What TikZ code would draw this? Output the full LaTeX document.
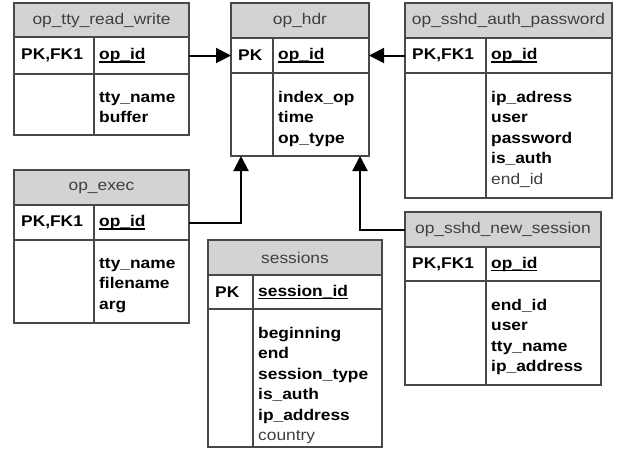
\documentclass[tikz,border=0pt]{standalone}
\usepackage{fontspec}
\usetikzlibrary{arrows.meta}
\newfontfamily\erfam{Liberation Sans}[FakeStretch=1.12]
\newcommand\erfont{\erfam\fontsize{15.5}{20.5}\selectfont}
\definecolor{tblgray}{RGB}{211,211,211}
\definecolor{tblline}{RGB}{72,72,72}
\definecolor{tbltext}{RGB}{64,64,64}
% primary key field, underlined
\newcommand\pkey[1]{\setbox0\hbox{#1}\rlap{\rule[-3pt]{\wd0}{1.2pt}}\box0}
\newcommand\plainf[1]{{\mdseries\color{tbltext}#1}}

\begin{document}
\begin{tikzpicture}[x=1pt,y=-1pt,
  tbl/.style={draw=tblline,line width=1.4pt,inner sep=0pt,outer sep=0pt,anchor=north west},
  tblhead/.style={tbl,fill=tblgray,text=tbltext,font=\erfont},
  tblcell/.style={tbl,fill=white},
  keytxt/.style={anchor=west,inner sep=0pt,font=\erfont\bfseries},
  fieldtxt/.style={anchor=north west,inner sep=0pt,align=left,font=\erfont\bfseries},
  fk/.style={draw=black,line width=2pt,-{Triangle[length=15pt,width=15pt]}}]
\useasboundingbox (0,0) rectangle (618,458);
% op_tty_read_write
\node[tblhead,minimum width=175pt,minimum height=34pt] (rw) at (14,3) {op\_tty\_read\_write};
\node[tblcell,minimum width=80pt,minimum height=37pt] (rw-k) at (rw.south west) {};
\node[tblcell,minimum width=95pt,minimum height=37pt] (rw-f) at (rw-k.north east) {};
\node[tblcell,minimum width=80pt,minimum height=61pt] (rw-b) at (rw-k.south west) {};
\node[tblcell,minimum width=95pt,minimum height=61pt] (rw-c) at (rw-b.north east) {};
\node[keytxt] (rw-kt) at ([xshift=7pt]rw-k.west) {PK,FK1};
\node[keytxt] (rw-ft) at ([xshift=5pt]rw-f.west) {\pkey{op\_id}};
\node[fieldtxt] (rw-ct) at ([shift={(5,18)}]rw-c.north west) {tty\_name\\buffer};
% op_hdr
\node[tblhead,minimum width=138pt,minimum height=35pt] (hdr) at (231,3) {op\_hdr};
\node[tblcell,minimum width=42pt,minimum height=35pt] (hdr-k) at (hdr.south west) {};
\node[tblcell,minimum width=96pt,minimum height=35pt] (hdr-f) at (hdr-k.north east) {};
\node[tblcell,minimum width=42pt,minimum height=83pt] (hdr-b) at (hdr-k.south west) {};
\node[tblcell,minimum width=96pt,minimum height=83pt] (hdr-c) at (hdr-b.north east) {};
\node[keytxt] (hdr-kt) at ([xshift=7pt]hdr-k.west) {PK};
\node[keytxt] (hdr-ft) at ([xshift=5pt]hdr-f.west) {\pkey{op\_id}};
\node[fieldtxt] (hdr-ct) at ([shift={(5,18)}]hdr-c.north west) {index\_op\\time\\op\_type};
% op_sshd_auth_password
\node[tblhead,minimum width=207pt,minimum height=35pt] (auth) at (405,3) {op\_sshd\_auth\_password};
\node[tblcell,minimum width=81pt,minimum height=35pt] (auth-k) at (auth.south west) {};
\node[tblcell,minimum width=126pt,minimum height=35pt] (auth-f) at (auth-k.north east) {};
\node[tblcell,minimum width=81pt,minimum height=125pt] (auth-b) at (auth-k.south west) {};
\node[tblcell,minimum width=126pt,minimum height=125pt] (auth-c) at (auth-b.north east) {};
\node[keytxt] (auth-kt) at ([xshift=7pt]auth-k.west) {PK,FK1};
\node[keytxt] (auth-ft) at ([xshift=5pt]auth-f.west) {\pkey{op\_id}};
\node[fieldtxt] (auth-ct) at ([shift={(5,18)}]auth-c.north west) {ip\_adress\\user\\password\\is\_auth\\\plainf{end\_id}};
% op_exec
\node[tblhead,minimum width=175pt,minimum height=35pt] (ex) at (14,170) {op\_exec};
\node[tblcell,minimum width=80pt,minimum height=35pt] (ex-k) at (ex.south west) {};
\node[tblcell,minimum width=95pt,minimum height=35pt] (ex-f) at (ex-k.north east) {};
\node[tblcell,minimum width=80pt,minimum height=83pt] (ex-b) at (ex-k.south west) {};
\node[tblcell,minimum width=95pt,minimum height=83pt] (ex-c) at (ex-b.north east) {};
\node[keytxt] (ex-kt) at ([xshift=7pt]ex-k.west) {PK,FK1};
\node[keytxt] (ex-ft) at ([xshift=5pt]ex-f.west) {\pkey{op\_id}};
\node[fieldtxt] (ex-ct) at ([shift={(5,18)}]ex-c.north west) {tty\_name\\filename\\arg};
% sessions
\node[tblhead,minimum width=174pt,minimum height=35pt] (ses) at (208,240) {sessions};
\node[tblcell,minimum width=45pt,minimum height=34pt] (ses-k) at (ses.south west) {};
\node[tblcell,minimum width=129pt,minimum height=34pt] (ses-f) at (ses-k.north east) {};
\node[tblcell,minimum width=45pt,minimum height=138pt] (ses-b) at (ses-k.south west) {};
\node[tblcell,minimum width=129pt,minimum height=138pt] (ses-c) at (ses-b.north east) {};
\node[keytxt] (ses-kt) at ([xshift=7pt]ses-k.west) {PK};
\node[keytxt] (ses-ft) at ([xshift=5pt]ses-f.west) {\pkey{session\_id}};
\node[fieldtxt] (ses-ct) at ([shift={(5,18)}]ses-c.north west) {beginning\\end\\session\_type\\is\_auth\\ip\_address\\\plainf{country}};
% op_sshd_new_session
\node[tblhead,minimum width=196pt,minimum height=35pt] (ns) at (405,212) {op\_sshd\_new\_session};
\node[tblcell,minimum width=81pt,minimum height=34pt] (ns-k) at (ns.south west) {};
\node[tblcell,minimum width=115pt,minimum height=34pt] (ns-f) at (ns-k.north east) {};
\node[tblcell,minimum width=81pt,minimum height=104pt] (ns-b) at (ns-k.south west) {};
\node[tblcell,minimum width=115pt,minimum height=104pt] (ns-c) at (ns-b.north east) {};
\node[keytxt] (ns-kt) at ([xshift=7pt]ns-k.west) {PK,FK1};
\node[keytxt] (ns-ft) at ([xshift=5pt]ns-f.west) {\pkey{op\_id}};
\node[fieldtxt] (ns-ct) at ([shift={(5,18)}]ns-c.north west) {end\_id\\user\\tty\_name\\ip\_address};
% foreign keys
\draw[fk] (rw-f.east) -- (hdr-k.west);
\draw[fk] (auth-k.west) -- (hdr-f.east);
\draw[fk] (ex-f.east) -| ([xshift=10pt]hdr-b.south west);
\draw[fk] (ns.west) -| ([xshift=-9pt]hdr-c.south east);
\end{tikzpicture}
\end{document}
